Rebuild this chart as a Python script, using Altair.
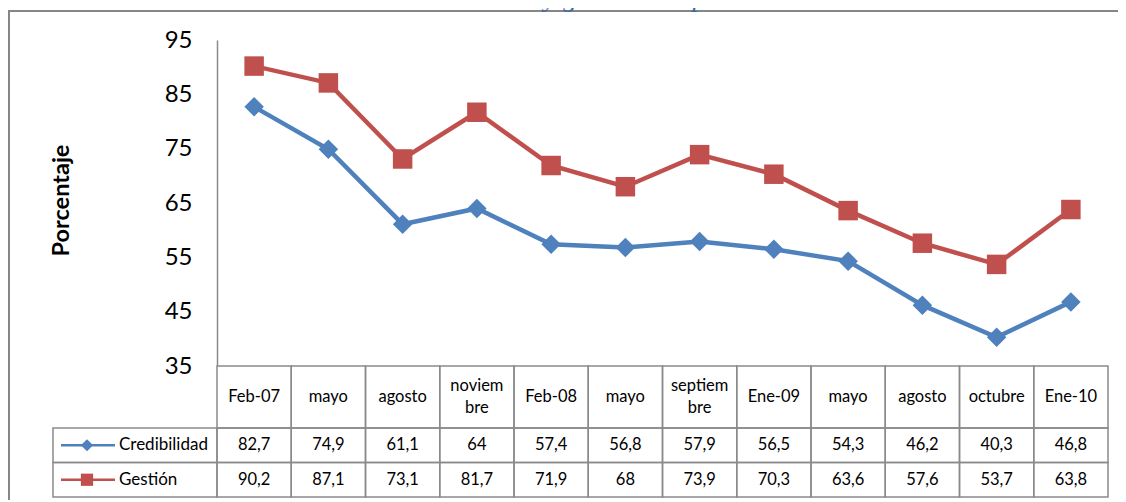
import altair as alt
import pandas as pd

# ---------------- data ----------------
TITULO = "Evolución de credibilidad y gestión del presidente Correa"
CATEGORIAS = ["Feb-07", "mayo", "agosto", "noviem\nbre", "Feb-08", "mayo",
              "septiem\nbre", "Ene-09", "mayo", "agosto", "octubre", "Ene-10"]
SERIES = ["Credibilidad", "Gestión"]
CREDIBILIDAD = [82.7, 74.9, 61.1, 64, 57.4, 56.8, 57.9, 56.5, 54.3, 46.2, 40.3, 46.8]
GESTION = [90.2, 87.1, 73.1, 81.7, 71.9, 68, 73.9, 70.3, 63.6, 57.6, 53.7, 63.8]
Y_TICKS = [35, 45, 55, 65, 75, 85, 95]
COLORES = ["#4F81BD", "#C0504D"]
FORMAS = ["diamond", "square"]

# ---------------- layout ----------------
W = 891          # plot width
H = 457          # plot + table height
CHART_H = 326    # line chart height
CAT_H = 62       # category row height
LINE_H = 22      # line height of two-line category labels
GRID = "#8a8a8a"
FONT = "Lato"

n = len(CATEGORIAS)
df = pd.DataFrame({
    "idx": list(range(n)) * 2,
    "serie": [SERIES[0]] * n + [SERIES[1]] * n,
    "valor": CREDIBILIDAD + GESTION,
})
df_cat = pd.DataFrame({"idx": list(range(n)), "etiqueta": CATEGORIAS, "fila": ["cat"] * n})
df_leg = pd.DataFrame({"serie": SERIES})

xscale = alt.Scale(domain=[-0.5, n - 0.5], nice=False, zero=False)
color = alt.Color("serie:N", scale=alt.Scale(domain=SERIES, range=COLORES), legend=None)
shape = alt.Shape("serie:N", scale=alt.Scale(domain=SERIES, range=FORMAS), legend=None)

# ---------------- line chart ----------------
yaxis = alt.Axis(
    values=Y_TICKS, title="Porcentaje", ticks=False,
    domainColor=GRID, domainWidth=1.5, gridColor=GRID, gridWidth=1.5,
    labelFont=FONT, labelFontSize=24, labelColor="black", labelPadding=25,
    titleFont=FONT, titleFontSize=23.5, titleFontWeight="bold", titleColor="black",
    titleX=-156, titleY=160, titleAngle=270, titleAlign="center", titleBaseline="middle",
)
base = alt.Chart(df).encode(
    x=alt.X("idx:Q", scale=xscale, axis=None),
    y=alt.Y("valor:Q", scale=alt.Scale(domain=[35, 95], range=[CHART_H, 0], nice=False, zero=False),
            axis=yaxis),
    color=color,
)
lineas = base.mark_line(strokeWidth=4.5)
puntos = base.mark_point(filled=True, size=380, opacity=1).encode(shape=shape)
grafico = alt.layer(lineas, puntos)

# ---------------- category row ----------------
ycat_scale = alt.Scale(type="band", domain=["cat"], range=[CHART_H, CHART_H + CAT_H],
                       paddingInner=0, paddingOuter=0)
cat_base = alt.Chart(df_cat).transform_calculate(x0="datum.idx - 0.5", x1="datum.idx + 0.5")
cat_rect = cat_base.mark_rect(fillOpacity=0, stroke=GRID, strokeWidth=1.5).encode(
    x=alt.X("x0:Q", scale=xscale, axis=None), x2="x1:Q",
    y=alt.Y("fila:N", scale=ycat_scale, axis=None))
cat_enc = dict(
    x=alt.X("idx:Q", scale=xscale, axis=None),
    y=alt.Y("fila:N", scale=ycat_scale, axis=None, bandPosition=0.5),
    text="etiqueta:N")
cat_text1 = cat_base.transform_filter("indexof(datum.etiqueta, '\\n') < 0").mark_text(
    font=FONT, fontSize=16.5, baseline="middle", color="black").encode(**cat_enc)
cat_text2 = cat_base.transform_filter("indexof(datum.etiqueta, '\\n') >= 0").mark_text(
    font=FONT, fontSize=16.5, lineBreak="\n", lineHeight=LINE_H, dy=-LINE_H / 2,
    baseline="middle", color="black").encode(**cat_enc)
categorias = alt.layer(cat_rect, cat_text1, cat_text2)

# ---------------- data rows ----------------
yrow_scale = alt.Scale(type="band", domain=SERIES, range=[CHART_H + CAT_H, H], paddingInner=0, paddingOuter=0)
yrow = alt.Y("serie:N", scale=yrow_scale, axis=None)
yrow_c = alt.Y("serie:N", scale=yrow_scale, axis=None, bandPosition=0.5)

row_base = alt.Chart(df).transform_calculate(
    x0="datum.idx - 0.5", x1="datum.idx + 0.5",
    etiqueta="replace(toString(datum.valor), '.', ',')")
row_rect = row_base.mark_rect(fillOpacity=0, stroke=GRID, strokeWidth=1.5).encode(
    x=alt.X("x0:Q", scale=xscale, axis=None), x2="x1:Q", y=yrow)
row_text = row_base.mark_text(font=FONT, fontSize=16.5, baseline="middle", color="black").encode(
    x=alt.X("idx:Q", scale=xscale, axis=None), y=yrow_c, text="etiqueta:N")

leg_base = alt.Chart(df_leg)
leg_rect = leg_base.mark_rect(fillOpacity=0, stroke=GRID, strokeWidth=1.5).encode(
    x=alt.value(-164), x2=alt.value(0), y=yrow)
leg_rule = leg_base.mark_rule(strokeWidth=2.5).encode(
    x=alt.value(-156), x2=alt.value(-102), y=yrow_c, color=color)
leg_point = leg_base.mark_point(filled=True, size=150, opacity=1).encode(
    x=alt.value(-130), y=yrow_c, color=color, shape=shape)
leg_text = leg_base.mark_text(font=FONT, fontSize=17, align="left", baseline="middle", color="black").encode(
    x=alt.value(-98), y=yrow_c, text="serie:N")
filas = alt.layer(row_rect, row_text, leg_rect, leg_rule, leg_point, leg_text)

# ---------------- frame and title ----------------
marco = alt.Chart(pd.DataFrame({"k": [0]})).mark_rect(fillOpacity=0, stroke="#868686", strokeWidth=2).encode(
    x=alt.value(-208), x2=alt.value(W + 400), y=alt.value(-29), y2=alt.value(H + 60))
titulo = alt.Chart(pd.DataFrame({"t": [TITULO]})).mark_text(
    font="Liberation Serif", fontStyle="italic", fontSize=28, color="#3E6BA4",
    align="center", baseline="alphabetic").encode(
    x=alt.value(354), y=alt.value(-34), text="t:N")

chart = alt.layer(marco, titulo, categorias, filas, grafico).resolve_scale(
    y="independent"
).properties(
    width=W, height=H,
    autosize=alt.AutoSizeParams(type="none"),
    padding={"left": 209, "top": 32, "right": 10, "bottom": 3},
).configure_view(stroke=None)

chart.save("out.html", embed_options={"renderer": "svg", "actions": False})
